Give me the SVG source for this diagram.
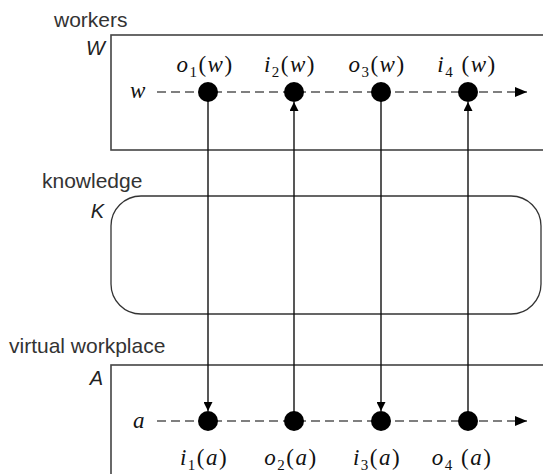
<svg xmlns="http://www.w3.org/2000/svg" width="543" height="474" viewBox="0 0 543 474">
<style>
.lbl{font-family:"Liberation Sans",Arial,sans-serif;font-size:21px;fill:#333}
.sym{font-family:"Liberation Sans",Arial,sans-serif;font-size:20px;font-style:italic;fill:#222}
.m{font-family:"Liberation Serif","Times New Roman",serif;font-size:23px;fill:#111;letter-spacing:1.5px}
.it{font-style:italic}
.sub{font-size:15px}
.box{fill:none;stroke:#444;stroke-width:1.6}
.dash{stroke:#555;stroke-width:1.6;stroke-dasharray:9,5;fill:none}
.vl{stroke:#111;stroke-width:1.4;fill:none}
.dot{fill:#000}
</style>
<defs>
<marker id="ah" viewBox="0 0 10 10" refX="10" refY="5" markerWidth="10" markerHeight="9" markerUnits="userSpaceOnUse" orient="auto">
<path d="M0,0 L10,5 L0,10 z" fill="#000"/>
</marker>
<marker id="ahh" viewBox="0 0 12 10" refX="12" refY="5" markerWidth="12" markerHeight="10" markerUnits="userSpaceOnUse" orient="auto">
<path d="M0,0 L12,5 L0,10 z" fill="#000"/>
</marker>
</defs>

<g id="workers">
<rect class="box" x="111" y="35" width="450" height="115"/>
<text class="lbl" x="54" y="27">workers</text>
<text class="sym" x="105" y="55" text-anchor="end">W</text>
</g>

<g id="knowledge">
<rect class="box" x="111" y="196" width="430" height="118" rx="30" ry="30" style="stroke:#333;stroke-width:1.3"/>
<text class="lbl" x="42" y="188">knowledge</text>
<text class="sym" x="104" y="218" text-anchor="end">K</text>
</g>

<g id="workplace">
<rect class="box" x="111" y="365" width="450" height="130"/>
<text class="lbl" x="9" y="353">virtual workplace</text>
<text class="sym" x="103" y="385" text-anchor="end">A</text>
</g>

<g id="timelines">
<text class="m it" x="130" y="98">w</text>
<line class="dash" x1="157" y1="92" x2="527" y2="92" marker-end="url(#ahh)"/>
<text class="m it" x="133" y="428">a</text>
<line class="dash" x1="157" y1="421" x2="527" y2="421" marker-end="url(#ahh)"/>
</g>

<g id="connectors">
<line class="vl" x1="208" y1="92" x2="208" y2="411" marker-end="url(#ah)"/>
<line class="vl" x1="294" y1="421" x2="294" y2="102" marker-end="url(#ah)"/>
<line class="vl" x1="381" y1="92" x2="381" y2="411" marker-end="url(#ah)"/>
<line class="vl" x1="468" y1="421" x2="468" y2="102" marker-end="url(#ah)"/>
</g>

<g id="events-w">
<circle class="dot" cx="208" cy="92" r="10"/>
<circle class="dot" cx="294" cy="92" r="10"/>
<circle class="dot" cx="381" cy="92" r="10"/>
<circle class="dot" cx="468" cy="92" r="10"/>
<text class="m" x="205" y="72" text-anchor="middle"><tspan class="it">o</tspan><tspan class="sub" dy="5">1</tspan><tspan dy="-5">(</tspan><tspan class="it">w</tspan>)</text>
<text class="m" x="290" y="72" text-anchor="middle"><tspan class="it">i</tspan><tspan class="sub" dy="5">2</tspan><tspan dy="-5">(</tspan><tspan class="it">w</tspan>)</text>
<text class="m" x="377" y="72" text-anchor="middle"><tspan class="it">o</tspan><tspan class="sub" dy="5">3</tspan><tspan dy="-5">(</tspan><tspan class="it">w</tspan>)</text>
<text class="m" x="467" y="72" text-anchor="middle"><tspan class="it">i</tspan><tspan class="sub" dy="5">4</tspan><tspan dy="-5"> (</tspan><tspan class="it">w</tspan>)</text>
</g>

<g id="events-a">
<circle class="dot" cx="208" cy="421" r="10"/>
<circle class="dot" cx="294" cy="421" r="10"/>
<circle class="dot" cx="381" cy="421" r="10"/>
<circle class="dot" cx="468" cy="421" r="10"/>
<text class="m" x="204" y="465" text-anchor="middle"><tspan class="it">i</tspan><tspan class="sub" dy="5">1</tspan><tspan dy="-5">(</tspan><tspan class="it">a</tspan>)</text>
<text class="m" x="291" y="465" text-anchor="middle"><tspan class="it">o</tspan><tspan class="sub" dy="5">2</tspan><tspan dy="-5">(</tspan><tspan class="it">a</tspan>)</text>
<text class="m" x="377" y="465" text-anchor="middle"><tspan class="it">i</tspan><tspan class="sub" dy="5">3</tspan><tspan dy="-5">(</tspan><tspan class="it">a</tspan>)</text>
<text class="m" x="462" y="465" text-anchor="middle"><tspan class="it">o</tspan><tspan class="sub" dy="5">4</tspan><tspan dy="-5"> (</tspan><tspan class="it">a</tspan>)</text>
</g>
</svg>
